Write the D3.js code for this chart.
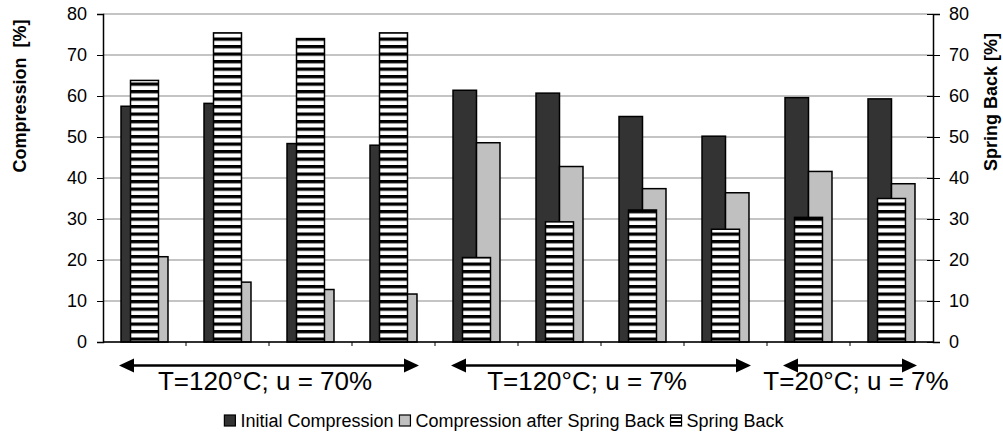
<!DOCTYPE html>
<html>
<head>
<meta charset="utf-8">
<script src="https://cdn.jsdelivr.net/npm/d3@7"></script>
<style>
    body { margin: 0; background: #fff; }
    #chart { width: 1003px; height: 439px; }
    text { font-family: Arial, "Liberation Sans", sans-serif; fill: #000; }
</style>
</head>
<body>
<div id="chart"></div>
<script>
// Chart data
const categories = ['1', '2', '3', '4', '5', '6', '7', '8', '9', '10'];
const initialCompression = [57.5, 58.2, 48.4, 48.0, 61.4, 60.7, 55.0, 50.2, 59.6, 59.3];
const afterSpringBack = [20.8, 14.6, 12.8, 11.7, 48.6, 42.8, 37.4, 36.4, 41.6, 38.6];
const springBack = [63.8, 75.4, 74.0, 75.4, 20.6, 29.3, 32.2, 27.5, 30.4, 35.0];
const yTicks = [0, 10, 20, 30, 40, 50, 60, 70, 80];
const groupLabels = ['T=120°C; u = 70%', 'T=120°C; u = 7%', 'T=20°C; u = 7%'];
const groupFirst = [0, 4, 8];
const groupLast = [3, 7, 9];
const seriesNames = ['Initial Compression', 'Compression after Spring Back', 'Spring Back'];

class SpringBackChart {
    constructor(containerId) {
        this.container = d3.select(`#${containerId}`);
        this.width = 1003;
        this.height = 439;
        this.margin = { top: 14, right: 70, bottom: 97, left: 103 };
    }

    render() {
        const { width, height, margin } = this;
        const svg = this.container.append('svg')
            .attr('width', width)
            .attr('height', height);

        const defs = svg.append('defs');
        const stripes = defs.append('pattern')
            .attr('id', 'stripes')
            .attr('patternUnits', 'userSpaceOnUse')
            .attr('width', 8)
            .attr('height', 7.5);
        stripes.append('rect').attr('width', 8).attr('height', 7.5).attr('fill', '#fff');
        stripes.append('rect').attr('width', 8).attr('height', 3.3).attr('fill', '#000');

        const smallStripes = defs.append('pattern')
            .attr('id', 'stripes-small')
            .attr('patternUnits', 'userSpaceOnUse')
            .attr('width', 4)
            .attr('height', 4);
        smallStripes.append('rect').attr('width', 4).attr('height', 4).attr('fill', '#fff');
        smallStripes.append('rect').attr('width', 4).attr('height', 2).attr('fill', '#000');

        const x = d3.scaleBand()
            .domain(categories)
            .range([margin.left, width - margin.right]);

        const y = d3.scaleLinear()
            .domain([0, 80])
            .range([height - margin.bottom, margin.top]);

        const yRight = d3.scaleLinear()
            .domain([0, 80])
            .range([height - margin.bottom, margin.top]);

        // primary bars side by side, secondary bar centered on top
        const bw = x.bandwidth();
        const x1 = d3.scaleBand()
            .domain(['initial', 'after'])
            .range([bw * 0.217, bw * 0.783]);
        const sbWidth = bw * 0.337;

        // Gridlines
        svg.append('g')
            .selectAll('line')
            .data(yTicks)
            .enter()
            .append('line')
            .attr('x1', margin.left)
            .attr('x2', width - margin.right)
            .attr('y1', d => y(d))
            .attr('y2', d => y(d))
            .style('stroke', '#8a8a8a')
            .style('stroke-width', 1.2);

        // Primary bars
        const groups = svg.append('g')
            .selectAll('g')
            .data(categories)
            .enter()
            .append('g')
            .attr('transform', d => `translate(${x(d)},0)`);

        groups.append('rect')
            .attr('x', x1('initial'))
            .attr('y', (d, i) => y(initialCompression[i]))
            .attr('width', x1.bandwidth())
            .attr('height', (d, i) => y(0) - y(initialCompression[i]))
            .attr('fill', '#333333')
            .style('stroke', '#000')
            .style('stroke-width', 1.5);

        groups.append('rect')
            .attr('x', x1('after'))
            .attr('y', (d, i) => y(afterSpringBack[i]))
            .attr('width', x1.bandwidth())
            .attr('height', (d, i) => y(0) - y(afterSpringBack[i]))
            .attr('fill', '#c0c0c0')
            .style('stroke', '#000')
            .style('stroke-width', 1.5);

        // Secondary bars (spring back)
        groups.append('rect')
            .attr('x', (bw - sbWidth) / 2)
            .attr('y', (d, i) => yRight(springBack[i]))
            .attr('width', sbWidth)
            .attr('height', (d, i) => yRight(0) - yRight(springBack[i]))
            .attr('fill', 'url(#stripes)')
            .style('stroke', '#000')
            .style('stroke-width', 1.5);

        // Left axis
        const leftAxis = svg.append('g')
            .attr('transform', `translate(${margin.left},0)`)
            .call(d3.axisLeft(y).tickValues(yTicks).tickSize(6).tickPadding(10).tickFormat(d3.format('d')));
        leftAxis.select('.domain').attr('stroke', '#000').attr('stroke-width', 1.5);
        leftAxis.selectAll('.tick line').attr('stroke', '#000');
        leftAxis.selectAll('.tick text')
            .style('font-size', '18px')
            .style('font-family', 'Arial, "Liberation Sans", sans-serif')
            .attr('fill', '#000');

        // Right axis
        const rightAxis = svg.append('g')
            .attr('transform', `translate(${width - margin.right},0)`)
            .call(d3.axisRight(yRight).tickValues(yTicks).tickSize(7).tickPadding(9).tickFormat(d3.format('d')));
        rightAxis.select('.domain').attr('stroke', '#000').attr('stroke-width', 1.5);
        rightAxis.selectAll('.tick line').attr('stroke', '#000').attr('x1', -6);
        rightAxis.selectAll('.tick text')
            .style('font-size', '18px')
            .style('font-family', 'Arial, "Liberation Sans", sans-serif')
            .attr('fill', '#000');

        // Bottom axis (no labels, boundary ticks)
        const bottom = svg.append('g');
        bottom.append('line')
            .attr('x1', margin.left)
            .attr('x2', width - margin.right)
            .attr('y1', y(0))
            .attr('y2', y(0))
            .style('stroke', '#000')
            .style('stroke-width', 1.5);
        bottom.selectAll('.cat-tick')
            .data(categories.slice(1))
            .enter()
            .append('line')
            .attr('x1', d => x(d))
            .attr('x2', d => x(d))
            .attr('y1', y(0))
            .attr('y2', y(0) + 4)
            .style('stroke', '#000');

        // Axis titles
        svg.append('text')
            .attr('transform', `translate(26, ${(y(0) + y(80)) / 2 - 82}) rotate(-90)`)
            .attr('text-anchor', 'middle')
            .attr('xml:space', 'preserve')
            .style('font-size', '18px')
            .style('font-weight', 'bold')
            .text('Compression  [%]');

        svg.append('text')
            .attr('transform', `translate(997, ${(y(0) + y(80)) / 2 - 76}) rotate(-90)`)
            .attr('text-anchor', 'middle')
            .style('font-size', '18px')
            .style('font-weight', 'bold')
            .text('Spring Back [%]');

        // Group arrows and labels
        const arrowY = 365.5;
        const inset = 16;
        const head = 15;
        const labelShift = [-4, -14, 6];
        const ann = svg.append('g');
        groupLabels.forEach((label, k) => {
            const x0 = x(categories[groupFirst[k]]) + inset;
            const x1e = x(categories[groupLast[k]]) + bw - inset;
            ann.append('line')
                .attr('x1', x0 + head - 2)
                .attr('x2', x1e - head + 2)
                .attr('y1', arrowY)
                .attr('y2', arrowY)
                .style('stroke', '#000')
                .style('stroke-width', 2.5);
            ann.append('path')
                .attr('d', `M${x0},${arrowY} L${x0 + head},${arrowY - 7} L${x0 + head},${arrowY + 7} Z`)
                .attr('fill', '#000');
            ann.append('path')
                .attr('d', `M${x1e},${arrowY} L${x1e - head},${arrowY - 7} L${x1e - head},${arrowY + 7} Z`)
                .attr('fill', '#000');
            ann.append('text')
                .attr('x', (x0 + x1e) / 2 + labelShift[k])
                .attr('y', 389.5)
                .attr('text-anchor', 'middle')
                .style('font-size', '26px')
                .text(label);
        });

        // Legend
        const fills = ['#333333', '#c0c0c0', 'url(#stripes-small)'];
        const legend = svg.append('g').attr('class', 'legend');
        let lx = 0;
        seriesNames.forEach((name, i) => {
            const item = legend.append('g').attr('transform', `translate(${lx},0)`);
            item.append('rect')
                .attr('x', 0)
                .attr('y', -6)
                .attr('width', 11)
                .attr('height', 11)
                .attr('fill', fills[i])
                .style('stroke', '#000')
                .style('stroke-width', 1.2);
            const t = item.append('text')
                .attr('x', 16)
                .attr('y', 0)
                .attr('dy', '0.35em')
                .style('font-size', '18px')
                .text(name);
            lx += 16 + t.node().getComputedTextLength() + 6;
        });
        const total = lx - 6;
        legend.attr('transform', `translate(${504 - total / 2}, 421)`);
    }
}

const chart = new SpringBackChart('chart');
chart.render();
</script>
</body>
</html>
